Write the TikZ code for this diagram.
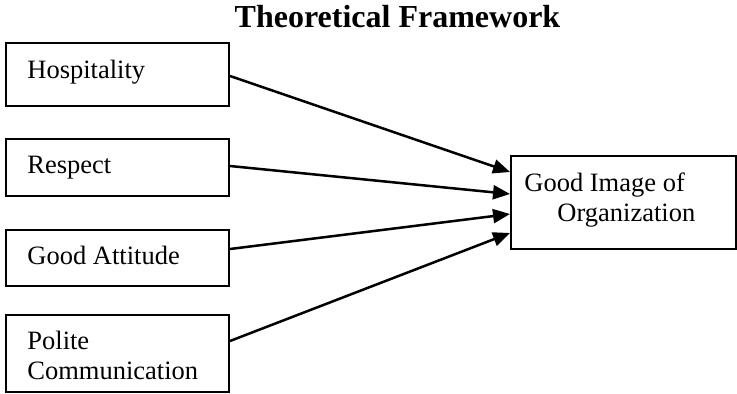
\documentclass[tikz,border=0pt]{standalone}
\usepackage{fontspec}
\setmainfont{Liberation Serif}
\usetikzlibrary{arrows.meta}
\begin{document}
\begin{tikzpicture}[x=0.5pt,y=-0.5pt,
  box/.style={draw=black,line width=1pt,rectangle,inner sep=0pt,minimum width=111.5pt},
  lbl/.style={anchor=base west,inner sep=0pt,font=\fontsize{13.25pt}{15pt}\selectfont},
  arr/.style={line width=1.25pt,-{Triangle[length=8.5pt,width=7pt]}}]
\useasboundingbox (0,0) rectangle (737,394);
\node[anchor=base,inner sep=0pt,font=\fontsize{16pt}{18pt}\selectfont\bfseries] (title) at (397.5,28) {Theoretical Framework};
% left boxes
\node[box,minimum height=31.5pt] (hosp) at (117.5,74.5) {};
\node[box,minimum height=28.5pt] (resp) at (117.5,167.5) {};
\node[box,minimum height=28pt] (att) at (117.5,258) {};
\node[box,minimum height=38.5pt] (pol) at (117.5,353.5) {};
% right box
\node[box,minimum width=112.5pt,minimum height=46.5pt] (img) at (623.5,202.5) {};
% texts
\node[lbl] (thosp) at (27,79) {Hospitality};
\node[lbl] (tresp) at (27,174) {Respect};
\node[lbl] (tatt) at (27,265) {Good Attitude};
\node[lbl] (tpol) at (27,350) {\begin{tabular}[t]{@{}l@{}}Polite\\Communication\end{tabular}};
\node[lbl] (timg) at (524,192) {\begin{tabular}[t]{@{}l@{}}Good Image of\\\hspace{16.5pt}Organization\end{tabular}};
% arrows
\draw[arr] ([yshift=-0.75pt]hosp.east) -- ([yshift=15.25pt]img.west);
\draw[arr] ([yshift=0.75pt]resp.east) -- ([yshift=4.25pt]img.west);
\draw[arr] ([yshift=4.5pt]att.east) -- ([yshift=-5.75pt]img.west);
\draw[arr] ([yshift=6.25pt]pol.east) -- ([yshift=-15.25pt]img.west);
\end{tikzpicture}
\end{document}
